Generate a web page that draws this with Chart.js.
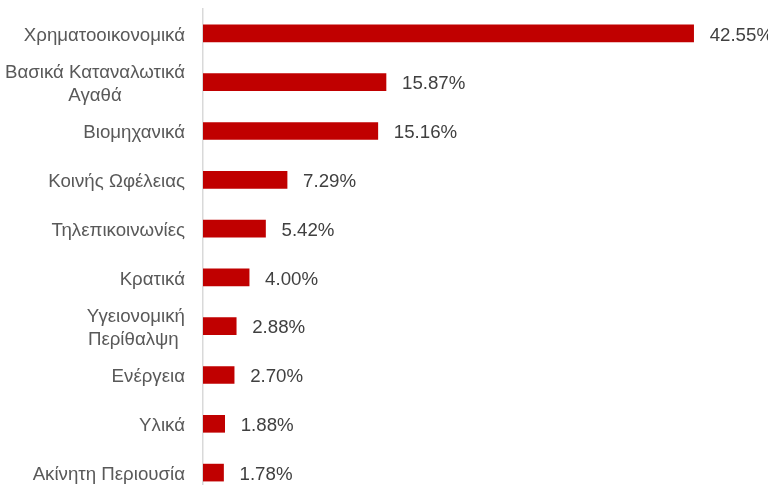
<!DOCTYPE html>
<html>
<head>
<meta charset="utf-8">
<script src="https://cdn.jsdelivr.net/npm/chart.js@4"></script>
<style>
  html, body { margin: 0; padding: 0; background: #fff; overflow: hidden; height: 485px; }
  #wrap { position: relative; width: 768px; height: 497px; }
</style>
</head>
<body>
<div id="wrap"><canvas id="sectorChart"></canvas></div>
<script>
// sector weights (%)
const sectors = [
  ['Χρηματοοικονομικά'],
  ['Βασικά Καταναλωτικά', 'Αγαθά'],
  ['Βιομηχανικά'],
  ['Κοινής Ωφέλειας'],
  ['Τηλεπικοινωνίες'],
  ['Κρατικά'],
  ['Υγειονομική', 'Περίθαλψη '],
  ['Ενέργεια'],
  ['Υλικά'],
  ['Ακίνητη Περιουσία']
];
const weights = [42.55, 15.87, 15.16, 7.29, 5.42, 4.00, 2.88, 2.70, 1.88, 1.78];

const labelFont = '18.7px "Liberation Sans", Arial, sans-serif';

// draws category names (multi-line ones centred in their block) and the % values
const labelPlugin = {
  id: 'sectorLabels',
  afterDatasetsDraw(chart) {
    const ctx = chart.ctx;
    const yScale = chart.scales.y;
    const meta = chart.getDatasetMeta(0);
    const rightEdge = chart.chartArea.left - 18;
    const lineH = 23;
    ctx.save();
    ctx.font = labelFont;
    ctx.textBaseline = 'middle';
    sectors.forEach((lines, i) => {
      const y = yScale.getPixelForValue(i) + 2;
      const blockW = Math.max(...lines.map(l => ctx.measureText(l).width));
      const cx = rightEdge - blockW / 2;
      ctx.fillStyle = '#595959';
      ctx.textAlign = 'center';
      lines.forEach((l, j) => {
        const ly = y + (j - (lines.length - 1) / 2) * lineH;
        ctx.fillText(l, cx, ly);
      });
      const bar = meta.data[i];
      ctx.fillStyle = '#404040';
      ctx.textAlign = 'left';
      ctx.fillText(weights[i].toFixed(2) + '%', bar.x + 16, y);
    });
    ctx.restore();
  }
};

new Chart(document.getElementById('sectorChart'), {
  type: 'bar',
  data: {
    labels: sectors,
    datasets: [{
      data: weights,
      backgroundColor: '#C00000',
      borderWidth: 0,
      barThickness: 17
    }]
  },
  options: {
    indexAxis: 'y',
    responsive: true,
    maintainAspectRatio: false,
    animation: false,
    layout: { padding: { left: 203, top: 9, right: 0, bottom: 0 } },
    plugins: {
      legend: { display: false },
      tooltip: { enabled: false }
    },
    scales: {
      x: {
        min: 0,
        max: 49,
        display: false
      },
      y: {
        grid: { display: false },
        border: { display: true, color: '#d9d9d9', width: 1.5 },
        ticks: { display: false },
        afterFit(scale) { scale.width = 0; }
      }
    }
  },
  plugins: [labelPlugin]
});
</script>
</body>
</html>
